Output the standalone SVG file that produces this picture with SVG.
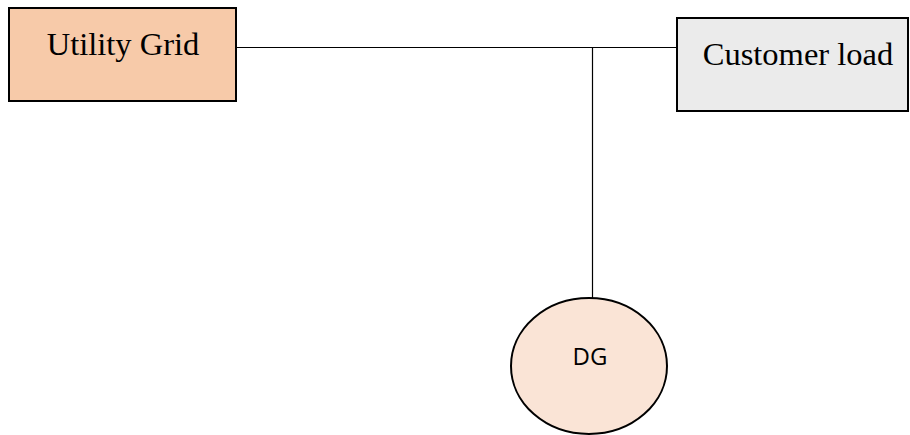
<svg xmlns="http://www.w3.org/2000/svg" width="910" height="435" viewBox="0 0 910 435">
<style>
.box{stroke:#000;stroke-width:2}
.wire{stroke:#000;stroke-width:1.2;fill:none}
.serif{font-family:"Liberation Serif","Times New Roman",serif;font-size:32.5px;fill:#000}
.sans{font-family:"Open Sans","DejaVu Sans",sans-serif;font-size:24px;fill:#000}
</style>
<rect width="910" height="435" fill="#fff"/>
<g id="connectors">
<path class="wire" d="M236 47.5H677"/>
<path class="wire" d="M592.5 47.5V298"/>
</g>
<g id="utility-grid">
<rect class="box" x="9" y="8" width="227" height="93" fill="#f7caa9"/>
<text class="serif" x="123" y="55" text-anchor="middle">Utility Grid</text>
</g>
<g id="customer-load">
<rect class="box" x="677" y="18" width="231" height="93" fill="#ebebeb"/>
<text class="serif" x="798" y="65" text-anchor="middle">Customer load</text>
</g>
<g id="dg">
<ellipse class="box" cx="589" cy="366" rx="78" ry="68" fill="#fae4d6"/>
<text class="sans" x="590" y="365" text-anchor="middle">DG</text>
</g>
</svg>
